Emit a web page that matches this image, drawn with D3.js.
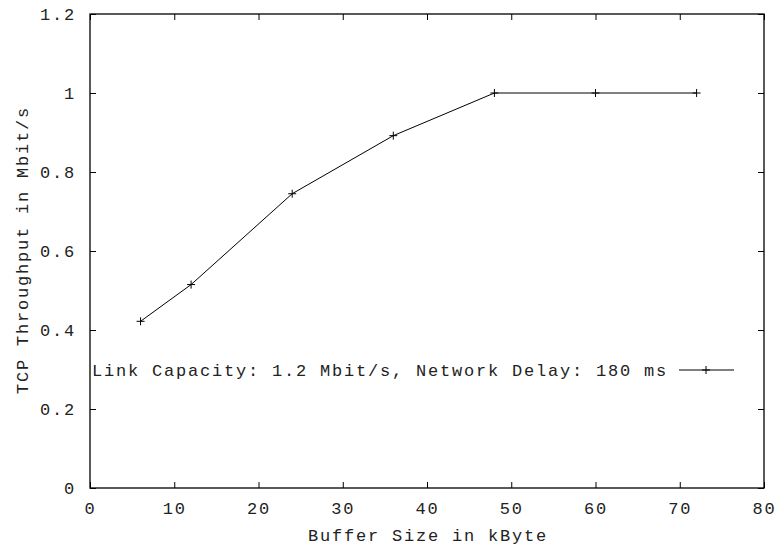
<!DOCTYPE html>
<html>
<head>
<meta charset="utf-8">
<script src="https://cdn.jsdelivr.net/npm/d3@7"></script>
<style>
  body { margin: 0; background: #fff; }
  text { font-family: "Liberation Mono", "DejaVu Sans Mono", monospace; font-size: 17px; letter-spacing: 1.8px; fill: #222; }
</style>
</head>
<body>
<svg width="776" height="549"></svg>
<script>
// buffer size (kByte) vs. throughput (Mbit/s)
var bufferSizes = [6, 12, 24, 36, 48, 60, 72];
var throughput = [0.422, 0.515, 0.745, 0.892, 1.0, 1.0, 1.0];
var xTicks = [0, 10, 20, 30, 40, 50, 60, 70, 80];
var yTicks = [0, 0.2, 0.4, 0.6, 0.8, 1, 1.2];
var seriesLabel = "Link Capacity: 1.2 Mbit/s, Network Delay: 180 ms";

var svg = d3.select("svg"),
    margin = {top: 14, right: 12, bottom: 61, left: 90},
    width = 776 - margin.left - margin.right,
    height = 549 - margin.top - margin.bottom;

var x = d3.scaleLinear().domain([0, 80]).range([0, width]),
    y = d3.scaleLinear().domain([0, 1.2]).range([height, 0]);

var g = svg.append("g")
    .attr("transform", "translate(" + margin.left + "," + margin.top + ")");

var tick = 6;

// ticks on all four sides, pointing in
function fmt(d) { return d3.format("")(d); }

g.append("g")
    .attr("transform", "translate(0," + height + ")")
    .call(d3.axisBottom(x).tickValues(xTicks).tickSizeInner(-tick).tickSizeOuter(0).tickPadding(14).tickFormat(fmt));
g.append("g")
    .call(d3.axisTop(x).tickValues(xTicks).tickSizeInner(-tick).tickSizeOuter(0).tickFormat(""));
g.append("g")
    .call(d3.axisLeft(y).tickValues(yTicks).tickSizeInner(-tick).tickSizeOuter(0).tickPadding(14).tickFormat(fmt));
g.append("g")
    .attr("transform", "translate(" + width + ",0)")
    .call(d3.axisRight(y).tickValues(yTicks).tickSizeInner(-tick).tickSizeOuter(0).tickFormat(""));

g.selectAll(".domain").remove();
g.selectAll(".tick line").attr("stroke", "#000").attr("stroke-width", 1);
g.selectAll(".tick text").attr("fill", "#222");
g.selectAll("g").attr("font-family", null).attr("font-size", null);

g.append("rect")
    .attr("width", width)
    .attr("height", height)
    .attr("fill", "none")
    .attr("stroke", "#000")
    .attr("stroke-width", 1.3);

// data line
var pts = bufferSizes.map(function(b, i) { return [b, throughput[i]]; });

g.append("path")
    .datum(pts)
    .attr("fill", "none")
    .attr("stroke", "#000")
    .attr("stroke-width", 1)
    .attr("d", d3.line().x(function(d) { return x(d[0]); }).y(function(d) { return y(d[1]); }));

function plus(sel, px, py) {
  sel.append("path")
      .attr("d", "M" + (px - 4) + "," + py + "H" + (px + 4) + "M" + px + "," + (py - 4) + "V" + (py + 4))
      .attr("stroke", "#000")
      .attr("stroke-width", 1);
}

pts.forEach(function(d) { plus(g, x(d[0]), y(d[1])); });

// key
var keyY = 370 - margin.top;
g.append("text")
    .attr("x", 668 - margin.left)
    .attr("y", keyY)
    .attr("dy", "0.35em")
    .attr("text-anchor", "end")
    .text(seriesLabel);
g.append("line")
    .attr("x1", 679 - margin.left).attr("x2", 734 - margin.left)
    .attr("y1", keyY).attr("y2", keyY)
    .attr("stroke", "#000");
plus(g, 706 - margin.left, keyY);

// axis titles
svg.append("text")
    .attr("x", margin.left + width / 2 + 1)
    .attr("y", 541)
    .attr("text-anchor", "middle")
    .text("Buffer Size in kByte");

svg.append("text")
    .attr("transform", "translate(28," + (margin.top + height / 2 - 1) + ") rotate(-90)")
    .attr("text-anchor", "middle")
    .text("TCP Throughput in Mbit/s");
</script>
</body>
</html>
